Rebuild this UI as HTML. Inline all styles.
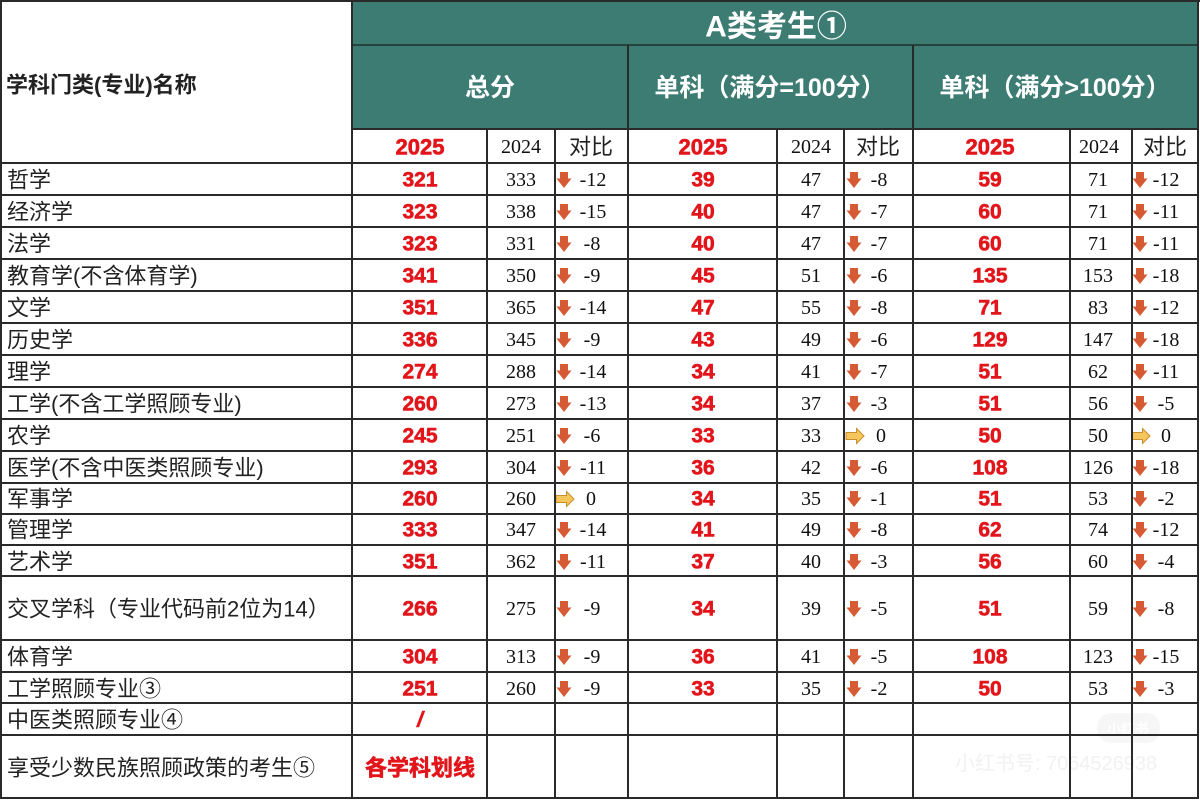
<!DOCTYPE html>
<html>
<head>
<meta charset="utf-8">
<style>
html,body{margin:0;padding:0;background:#fff;}
svg{display:block;}
.nm{font-family:"Liberation Sans","Noto Sans CJK SC",sans-serif;font-size:22px;fill:#222;dominant-baseline:central;}
.r{font-family:"Liberation Sans","Noto Sans CJK SC",sans-serif;font-size:21px;font-weight:bold;fill:#e2151b;stroke:#e2151b;stroke-width:0.6;text-anchor:middle;dominant-baseline:central;}
.s{font-family:"Liberation Serif",serif;font-size:20px;fill:#111;text-anchor:middle;dominant-baseline:central;}
.h{font-family:"Liberation Sans","Noto Sans CJK SC",sans-serif;font-size:25px;font-weight:bold;fill:#fff;text-anchor:middle;dominant-baseline:central;}
.cj{font-family:"Liberation Sans","Noto Sans CJK SC",sans-serif;font-size:22px;fill:#222;text-anchor:middle;dominant-baseline:central;}
</style>
</head>
<body>
<svg width="1200" height="800" viewBox="0 0 1200 800" xmlns="http://www.w3.org/2000/svg">
<defs>
<path id="dn" d="M-4,-8 L4,-8 L4,-1.5 L7.5,-1.5 L0,8 L-7.5,-1.5 L-4,-1.5 Z" fill="#d65a33"/>
<path id="rt" d="M-9,-3.5 L1.5,-3.5 L1.5,-7.5 L9,0 L1.5,7.5 L1.5,3.5 L-9,3.5 Z" fill="#f4c65c" stroke="#c98f2c" stroke-width="1"/>
</defs>
<rect x="0" y="0" width="1200" height="800" fill="#fff"/>
<!-- teal header -->
<rect x="352" y="1" width="846" height="128" fill="#3d7c73"/>
<text x="776" y="27" class="h" style="font-size:30px">A类考生①</text>
<text x="490" y="88" class="h">总分</text>
<text x="770" y="88" class="h">单科（满分=100分）</text>
<text x="1055" y="88" class="h">单科（满分&gt;100分）</text>
<text x="6" y="85" class="nm" style="font-weight:bold">学科门类(专业)名称</text>

<!-- year row -->
<g transform="translate(0,147)">
<text x="420" y="0" class="r" style="font-size:22px">2025</text><text x="521" y="0" class="s">2024</text><text x="591" y="0" class="cj">对比</text>
<text x="703" y="0" class="r" style="font-size:22px">2025</text><text x="811" y="0" class="s">2024</text><text x="878" y="0" class="cj">对比</text>
<text x="990" y="0" class="r" style="font-size:22px">2025</text><text x="1099" y="0" class="s">2024</text><text x="1165" y="0" class="cj">对比</text>
</g>

<!-- data rows -->
<g transform="translate(0,180)"><text x="7" class="nm">哲学</text><text x="420" class="r">321</text><text x="521" class="s">333</text><use href="#dn" x="564" y="0"/><text x="593" class="s">-12</text><text x="703" class="r">39</text><text x="811" class="s">47</text><use href="#dn" x="854"/><text x="879" class="s">-8</text><text x="990" class="r">59</text><text x="1098" class="s">71</text><use href="#dn" x="1140"/><text x="1166" class="s">-12</text></g>
<g transform="translate(0,212)"><text x="7" class="nm">经济学</text><text x="420" class="r">323</text><text x="521" class="s">338</text><use href="#dn" x="564"/><text x="593" class="s">-15</text><text x="703" class="r">40</text><text x="811" class="s">47</text><use href="#dn" x="854"/><text x="879" class="s">-7</text><text x="990" class="r">60</text><text x="1098" class="s">71</text><use href="#dn" x="1140"/><text x="1166" class="s">-11</text></g>
<g transform="translate(0,244)"><text x="7" class="nm">法学</text><text x="420" class="r">323</text><text x="521" class="s">331</text><use href="#dn" x="564"/><text x="592" class="s">-8</text><text x="703" class="r">40</text><text x="811" class="s">47</text><use href="#dn" x="854"/><text x="879" class="s">-7</text><text x="990" class="r">60</text><text x="1098" class="s">71</text><use href="#dn" x="1140"/><text x="1166" class="s">-11</text></g>
<g transform="translate(0,276)"><text x="7" class="nm">教育学(不含体育学)</text><text x="420" class="r">341</text><text x="521" class="s">350</text><use href="#dn" x="564"/><text x="592" class="s">-9</text><text x="703" class="r">45</text><text x="811" class="s">51</text><use href="#dn" x="854"/><text x="879" class="s">-6</text><text x="990" class="r">135</text><text x="1098" class="s">153</text><use href="#dn" x="1140"/><text x="1166" class="s">-18</text></g>
<g transform="translate(0,308)"><text x="7" class="nm">文学</text><text x="420" class="r">351</text><text x="521" class="s">365</text><use href="#dn" x="564"/><text x="593" class="s">-14</text><text x="703" class="r">47</text><text x="811" class="s">55</text><use href="#dn" x="854"/><text x="879" class="s">-8</text><text x="990" class="r">71</text><text x="1098" class="s">83</text><use href="#dn" x="1140"/><text x="1166" class="s">-12</text></g>
<g transform="translate(0,340)"><text x="7" class="nm">历史学</text><text x="420" class="r">336</text><text x="521" class="s">345</text><use href="#dn" x="564"/><text x="592" class="s">-9</text><text x="703" class="r">43</text><text x="811" class="s">49</text><use href="#dn" x="854"/><text x="879" class="s">-6</text><text x="990" class="r">129</text><text x="1098" class="s">147</text><use href="#dn" x="1140"/><text x="1166" class="s">-18</text></g>
<g transform="translate(0,372)"><text x="7" class="nm">理学</text><text x="420" class="r">274</text><text x="521" class="s">288</text><use href="#dn" x="564"/><text x="593" class="s">-14</text><text x="703" class="r">34</text><text x="811" class="s">41</text><use href="#dn" x="854"/><text x="879" class="s">-7</text><text x="990" class="r">51</text><text x="1098" class="s">62</text><use href="#dn" x="1140"/><text x="1166" class="s">-11</text></g>
<g transform="translate(0,404)"><text x="7" class="nm">工学(不含工学照顾专业)</text><text x="420" class="r">260</text><text x="521" class="s">273</text><use href="#dn" x="564"/><text x="593" class="s">-13</text><text x="703" class="r">34</text><text x="811" class="s">37</text><use href="#dn" x="854"/><text x="879" class="s">-3</text><text x="990" class="r">51</text><text x="1098" class="s">56</text><use href="#dn" x="1140"/><text x="1166" class="s">-5</text></g>
<g transform="translate(0,436)"><text x="7" class="nm">农学</text><text x="420" class="r">245</text><text x="521" class="s">251</text><use href="#dn" x="564"/><text x="592" class="s">-6</text><text x="703" class="r">33</text><text x="811" class="s">33</text><use href="#rt" x="855"/><text x="881" class="s">0</text><text x="990" class="r">50</text><text x="1098" class="s">50</text><use href="#rt" x="1141"/><text x="1166" class="s">0</text></g>
<g transform="translate(0,468)"><text x="7" class="nm">医学(不含中医类照顾专业)</text><text x="420" class="r">293</text><text x="521" class="s">304</text><use href="#dn" x="564"/><text x="593" class="s">-11</text><text x="703" class="r">36</text><text x="811" class="s">42</text><use href="#dn" x="854"/><text x="879" class="s">-6</text><text x="990" class="r">108</text><text x="1098" class="s">126</text><use href="#dn" x="1140"/><text x="1166" class="s">-18</text></g>
<g transform="translate(0,499)"><text x="7" class="nm">军事学</text><text x="420" class="r">260</text><text x="521" class="s">260</text><use href="#rt" x="565"/><text x="591" class="s">0</text><text x="703" class="r">34</text><text x="811" class="s">35</text><use href="#dn" x="854"/><text x="879" class="s">-1</text><text x="990" class="r">51</text><text x="1098" class="s">53</text><use href="#dn" x="1140"/><text x="1166" class="s">-2</text></g>
<g transform="translate(0,530)"><text x="7" class="nm">管理学</text><text x="420" class="r">333</text><text x="521" class="s">347</text><use href="#dn" x="564"/><text x="593" class="s">-14</text><text x="703" class="r">41</text><text x="811" class="s">49</text><use href="#dn" x="854"/><text x="879" class="s">-8</text><text x="990" class="r">62</text><text x="1098" class="s">74</text><use href="#dn" x="1140"/><text x="1166" class="s">-12</text></g>
<g transform="translate(0,562)"><text x="7" class="nm">艺术学</text><text x="420" class="r">351</text><text x="521" class="s">362</text><use href="#dn" x="564"/><text x="593" class="s">-11</text><text x="703" class="r">37</text><text x="811" class="s">40</text><use href="#dn" x="854"/><text x="879" class="s">-3</text><text x="990" class="r">56</text><text x="1098" class="s">60</text><use href="#dn" x="1140"/><text x="1166" class="s">-4</text></g>
<g transform="translate(0,609)"><text x="7" class="nm">交叉学科（专业代码前2位为14）</text><text x="420" class="r">266</text><text x="521" class="s">275</text><use href="#dn" x="564"/><text x="592" class="s">-9</text><text x="703" class="r">34</text><text x="811" class="s">39</text><use href="#dn" x="854"/><text x="879" class="s">-5</text><text x="990" class="r">51</text><text x="1098" class="s">59</text><use href="#dn" x="1140"/><text x="1166" class="s">-8</text></g>
<g transform="translate(0,657)"><text x="7" class="nm">体育学</text><text x="420" class="r">304</text><text x="521" class="s">313</text><use href="#dn" x="564"/><text x="592" class="s">-9</text><text x="703" class="r">36</text><text x="811" class="s">41</text><use href="#dn" x="854"/><text x="879" class="s">-5</text><text x="990" class="r">108</text><text x="1098" class="s">123</text><use href="#dn" x="1140"/><text x="1166" class="s">-15</text></g>
<g transform="translate(0,689)"><text x="7" class="nm">工学照顾专业③</text><text x="420" class="r">251</text><text x="521" class="s">260</text><use href="#dn" x="564"/><text x="592" class="s">-9</text><text x="703" class="r">33</text><text x="811" class="s">35</text><use href="#dn" x="854"/><text x="879" class="s">-2</text><text x="990" class="r">50</text><text x="1098" class="s">53</text><use href="#dn" x="1140"/><text x="1166" class="s">-3</text></g>
<g transform="translate(0,720)"><text x="7" class="nm">中医类照顾专业④</text><text x="420" class="r" style="font-style:italic">/</text></g>
<g transform="translate(0,768)"><text x="7" class="nm">享受少数民族照顾政策的考生⑤</text><text x="420" class="r" style="font-size:22px">各学科划线</text></g>

<!-- watermark -->
<g opacity="0.35">
<rect x="1097" y="713" width="63" height="30" rx="14" fill="#e6e6e6"/>
<text x="1128" y="729" font-family="Liberation Sans,Noto Sans CJK SC,sans-serif" font-size="14" font-weight="bold" fill="#fff" text-anchor="middle" dominant-baseline="central">小红书</text>
<text x="1056" y="764" font-family="Liberation Sans,Noto Sans CJK SC,sans-serif" font-size="20" fill="#d8d8d8" text-anchor="middle" dominant-baseline="central">小红书号: 7064526938</text>
</g>

<!-- grid lines -->
<g stroke="#2a2a2a" stroke-width="2" fill="none">
<line x1="0" y1="1" x2="1200" y2="1"/>
<line x1="352" y1="45" x2="1198" y2="45" stroke="#24453f"/>
<line x1="352" y1="129" x2="1198" y2="129"/>
<line x1="0" y1="163" x2="1198" y2="163"/>
<line x1="0" y1="195" x2="1198" y2="195"/>
<line x1="0" y1="227" x2="1198" y2="227"/>
<line x1="0" y1="259" x2="1198" y2="259"/>
<line x1="0" y1="291" x2="1198" y2="291"/>
<line x1="0" y1="323" x2="1198" y2="323"/>
<line x1="0" y1="355" x2="1198" y2="355"/>
<line x1="0" y1="387" x2="1198" y2="387"/>
<line x1="0" y1="419" x2="1198" y2="419"/>
<line x1="0" y1="451" x2="1198" y2="451"/>
<line x1="0" y1="483" x2="1198" y2="483"/>
<line x1="0" y1="514" x2="1198" y2="514"/>
<line x1="0" y1="545" x2="1198" y2="545"/>
<line x1="0" y1="576" x2="1198" y2="576"/>
<line x1="0" y1="640" x2="1198" y2="640"/>
<line x1="0" y1="672" x2="1198" y2="672"/>
<line x1="0" y1="703" x2="1198" y2="703"/>
<line x1="0" y1="735" x2="1198" y2="735"/>
<line x1="0" y1="798" x2="1198" y2="798"/>
<line x1="1" y1="0" x2="1" y2="799"/>
<line x1="352" y1="0" x2="352" y2="799"/>
<line x1="487" y1="129" x2="487" y2="799"/>
<line x1="555" y1="129" x2="555" y2="799"/>
<line x1="628" y1="45" x2="628" y2="799"/>
<line x1="777" y1="129" x2="777" y2="799"/>
<line x1="844" y1="129" x2="844" y2="799"/>
<line x1="913" y1="45" x2="913" y2="799"/>
<line x1="1070" y1="129" x2="1070" y2="799"/>
<line x1="1132" y1="129" x2="1132" y2="799"/>
<line x1="1198" y1="0" x2="1198" y2="799"/>
</g>
</svg>
</body>
</html>
